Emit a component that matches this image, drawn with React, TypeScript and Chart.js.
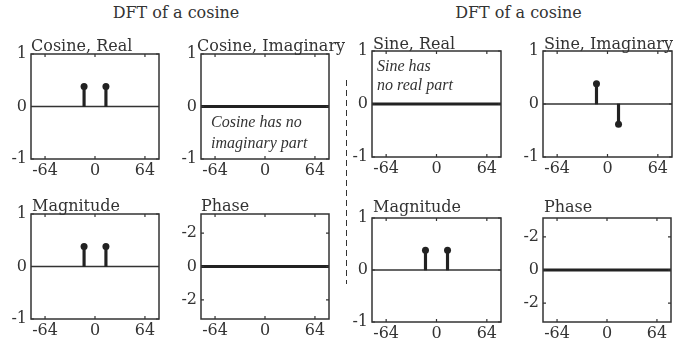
import React, { useEffect, useRef } from "react";
import { Chart, registerables } from "chart.js";
Chart.register(...registerables);

// ---------- data ----------
const stemFreqs = [-14, 14];
const cosineReal = [0.38, 0.38];
const sineImag = [0.38, -0.38];
const cosineMagnitude = [0.38, 0.38];
const sineMagnitude = [0.38, 0.38];
const xLimits = [-82, 82];
const xTickValues = [-64, 0, 64];
const xTickLabels = ["-64", "0", "64"];
const ampLimits = [-1, 1];
const ampTickValues = [1, 0, -1];
const ampTickLabels = ["1", "0", "-1"];
const phaseLimits = [-Math.PI, Math.PI];
const phaseTickValues = [2, 0, -2];
const phaseTickLabels = ["-2", "0", "-2"];
const superTitles = ["DFT of a cosine", "DFT of a cosine"];

// ---------- style ----------
const SERIF = "'DejaVu Serif', serif";
const TEXT = "#333333";
const INK = "#222222";
const YW = 30;
const XH = 24;
const PT = 26;
const PR = 20;

type Panel = {
  title: string;
  titleDx: number;
  titleGap: number;
  box: { l: number; t: number; w: number; h: number };
  kind: "stem" | "zero";
  values?: number[];
  yKind: "amp" | "phase";
  note?: { lines: string[]; dx: number; dys: number[] };
};

const panels: Panel[] = [
  { title: "Cosine, Real", titleDx: 0, titleGap: 3, box: { l: 31, t: 54, w: 128, h: 105 }, kind: "stem", values: cosineReal, yKind: "amp" },
  { title: "Cosine, Imaginary", titleDx: -4, titleGap: 3, box: { l: 201, t: 54, w: 128, h: 105 }, kind: "zero", yKind: "amp",
    note: { lines: ["Cosine has no", "imaginary part"], dx: 10, dys: [73, 94] } },
  { title: "Magnitude", titleDx: 1, titleGap: 3, box: { l: 31, t: 214, w: 128, h: 105 }, kind: "stem", values: cosineMagnitude, yKind: "amp" },
  { title: "Phase", titleDx: 0, titleGap: 3, box: { l: 201, t: 214, w: 128, h: 105 }, kind: "zero", yKind: "phase" },
  { title: "Sine, Real", titleDx: 1, titleGap: 2, box: { l: 372, t: 51, w: 129, h: 106 }, kind: "zero", yKind: "amp",
    note: { lines: ["Sine has", "no real part"], dx: 5, dys: [20, 39] } },
  { title: "Sine, Imaginary", titleDx: 1, titleGap: 2, box: { l: 543, t: 51, w: 129, h: 106 }, kind: "stem", values: sineImag, yKind: "amp" },
  { title: "Magnitude", titleDx: 1, titleGap: 6, box: { l: 372, t: 218, w: 129, h: 104 }, kind: "stem", values: sineMagnitude, yKind: "amp" },
  { title: "Phase", titleDx: 1, titleGap: 6, box: { l: 543, t: 218, w: 128, h: 104 }, kind: "zero", yKind: "phase" },
];

function PanelChart({ p }: { p: Panel }) {
  const ref = useRef<HTMLCanvasElement | null>(null);
  useEffect(() => {
    const canvas = ref.current;
    if (!canvas) return;
    const yLim = p.yKind === "amp" ? ampLimits : phaseLimits;
    const yVals = p.yKind === "amp" ? ampTickValues : phaseTickValues;
    const yLabs = p.yKind === "amp" ? ampTickLabels : phaseTickLabels;

    const datasets: any[] = [];
    if (p.kind === "stem" && p.values) {
      const pts = stemFreqs.map((x, i) => ({ x, y: p.values![i] }));
      datasets.push({
        type: "scatter",
        data: pts,
        pointRadius: 3.5,
        pointBackgroundColor: INK,
        pointBorderWidth: 0,
        order: 0,
      });
      datasets.push({
        type: "bar",
        data: pts,
        backgroundColor: INK,
        barThickness: 2.5,
        borderWidth: 0,
        order: 1,
      });
    } else {
      datasets.push({
        type: "line",
        data: xLimits.map((x) => ({ x, y: 0 })),
        borderColor: INK,
        borderWidth: 3,
        pointRadius: 0,
      });
    }

    const framePlugin = {
      id: "frame",
      beforeDatasetsDraw(chart: any) {
        if (p.kind !== "stem") return;
        const { ctx, chartArea: a, scales } = chart;
        const y0 = scales.y.getPixelForValue(0);
        ctx.save();
        ctx.strokeStyle = "#333";
        ctx.lineWidth = 1.5;
        ctx.beginPath();
        ctx.moveTo(a.left, y0);
        ctx.lineTo(a.right, y0);
        ctx.stroke();
        ctx.restore();
      },
      afterDraw(chart: any) {
        const { ctx, chartArea: a, scales } = chart;
        ctx.save();
        ctx.strokeStyle = "#333";
        ctx.lineWidth = 1.5;
        ctx.strokeRect(a.left, a.top, a.right - a.left, a.bottom - a.top);
        ctx.lineWidth = 1.2;
        const tl = 3;
        ctx.beginPath();
        xTickValues.forEach((v) => {
          const px = scales.x.getPixelForValue(v);
          ctx.moveTo(px, a.bottom);
          ctx.lineTo(px, a.bottom - tl);
          ctx.moveTo(px, a.top);
          ctx.lineTo(px, a.top + tl);
        });
        yVals.forEach((v) => {
          const py = scales.y.getPixelForValue(v);
          ctx.moveTo(a.left, py);
          ctx.lineTo(a.left + tl, py);
          ctx.moveTo(a.right, py);
          ctx.lineTo(a.right - tl, py);
        });
        ctx.stroke();
        ctx.fillStyle = TEXT;
        ctx.textBaseline = "alphabetic";
        ctx.textAlign = "left";
        ctx.font = "16px " + SERIF;
        ctx.fillText(p.title, a.left + p.titleDx, a.top - p.titleGap);
        if (p.note) {
          ctx.font = "italic 16px 'Liberation Serif', serif";
          p.note.lines.forEach((line, i) => {
            ctx.fillText(line, a.left + p.note!.dx, a.top + p.note!.dys[i]);
          });
        }
        ctx.restore();
      },
    };

    const chart = new Chart(canvas, {
      type: "bar",
      data: { datasets },
      options: {
        animation: false,
        responsive: false,
        maintainAspectRatio: false,
        layout: { padding: { left: 0, top: PT, right: PR, bottom: 0 } },
        plugins: { legend: { display: false }, tooltip: { enabled: false }, title: { display: false } },
        scales: {
          x: {
            type: "linear",
            min: xLimits[0],
            max: xLimits[1],
            offset: false,
            grid: { display: false, drawTicks: false },
            border: { display: false },
            afterBuildTicks: (s: any) => {
              s.ticks = xTickValues.map((v) => ({ value: v }));
            },
            afterFit: (s: any) => {
              s.height = XH;
            },
            ticks: {
              autoSkip: false,
              maxRotation: 0,
              padding: 2,
              color: TEXT,
              font: { family: SERIF, size: 16 },
              callback: (_v: any, i: number) => xTickLabels[i],
            },
          },
          y: {
            type: "linear",
            min: yLim[0],
            max: yLim[1],
            grid: { display: false, drawTicks: false },
            border: { display: false },
            afterBuildTicks: (s: any) => {
              s.ticks = yVals.map((v) => ({ value: v }));
            },
            afterFit: (s: any) => {
              s.width = YW;
            },
            ticks: {
              autoSkip: false,
              padding: 4,
              color: TEXT,
              font: { family: SERIF, size: 16 },
              callback: (_v: any, i: number) => yLabs[i],
            },
          },
        },
      } as any,
      plugins: [framePlugin],
    });
    return () => chart.destroy();
  }, [p]);

  const w = YW + p.box.w + PR;
  const h = PT + p.box.h + XH;
  return (
    <canvas
      ref={ref}
      width={w}
      height={h}
      style={{ position: "absolute", left: p.box.l - YW, top: p.box.t - PT, width: w, height: h }}
    />
  );
}

export default function App() {
  return (
    <div style={{ position: "fixed", left: 0, top: 0, width: 673, height: 342, background: "#fff", overflow: "hidden" }}>
      {superTitles.map((t, i) => (
        <div
          key={i}
          style={{
            position: "absolute",
            left: (i === 0 ? 176 : 518.5) - 100,
            width: 200,
            top: 5,
            textAlign: "center",
            font: "16px " + SERIF,
            lineHeight: "16px",
            color: TEXT,
            whiteSpace: "nowrap",
          }}
        >
          {t}
        </div>
      ))}
      <svg style={{ position: "absolute", left: 0, top: 0 }} width={673} height={342}>
        <line x1={346.5} y1={80} x2={346.5} y2={284} stroke="#333" strokeWidth={1} strokeDasharray="6 4" />
      </svg>
      {panels.map((p, i) => (
        <PanelChart key={i} p={p} />
      ))}
    </div>
  );
}
